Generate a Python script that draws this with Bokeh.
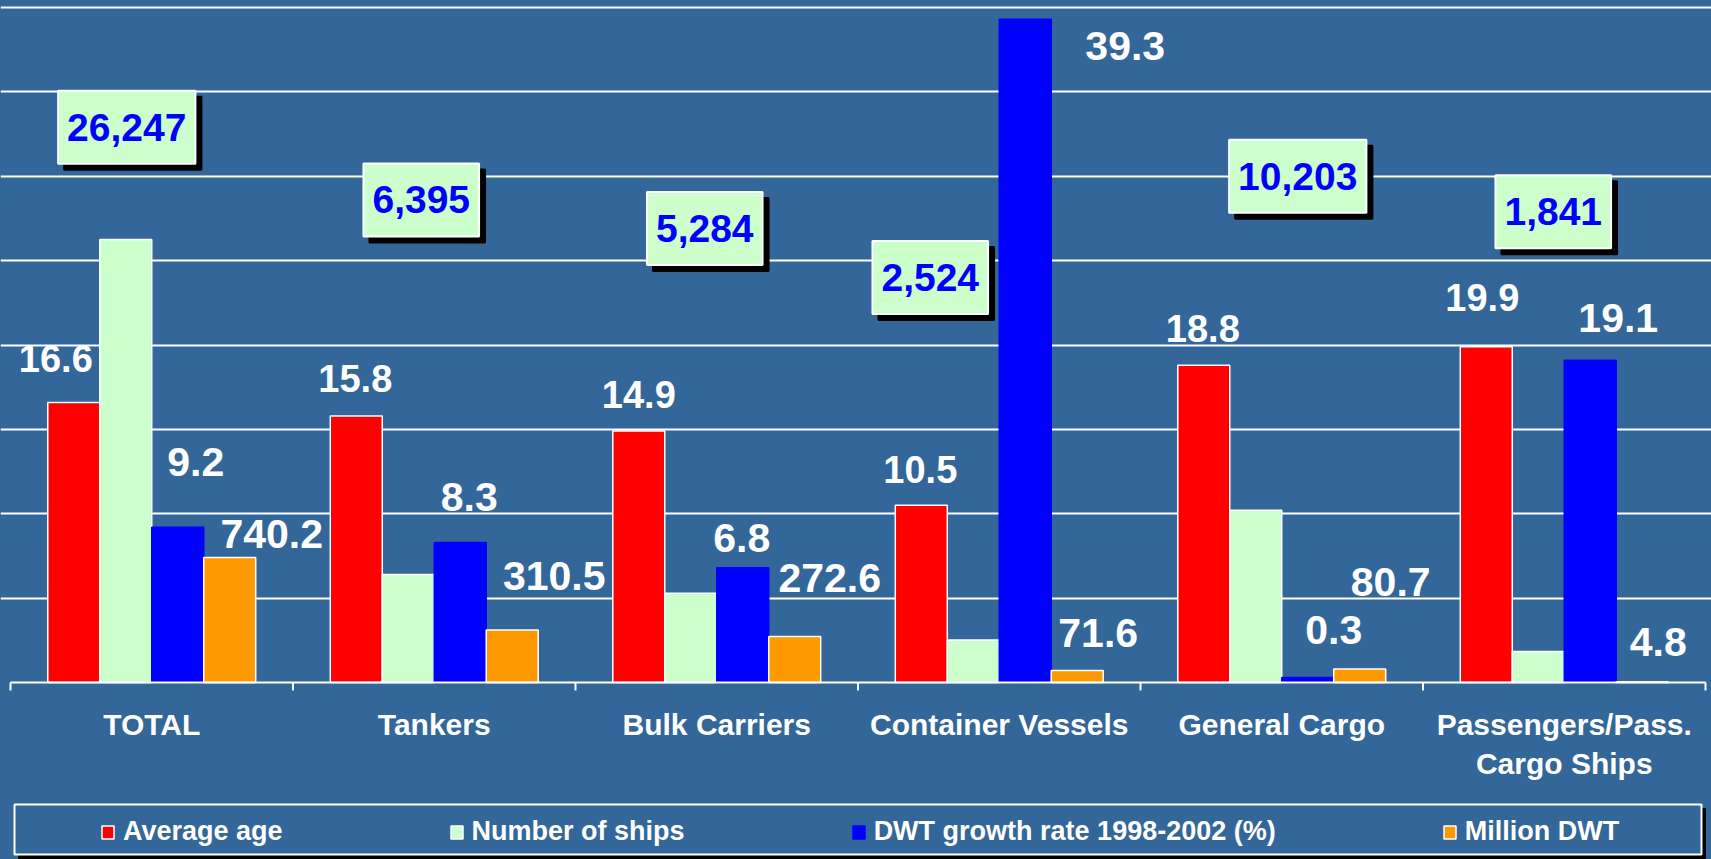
from bokeh.plotting import figure
from bokeh.models import (Range1d, FixedTicker, ColumnDataSource, Legend, LegendItem,
                          GlobalInlineStyleSheet)
from bokeh.core.properties import value
from bokeh.embed import file_html
from bokeh.resources import INLINE

# ---------------- data ----------------
categories = ["TOTAL", "Tankers", "Bulk Carriers", "Container Vessels", "General Cargo",
              "Passengers/Pass.\nCargo Ships"]
average_age = [16.6, 15.8, 14.9, 10.5, 18.8, 19.9]
number_of_ships = [26247, 6395, 5284, 2524, 10203, 1841]
dwt_growth = [9.2, 8.3, 6.8, 39.3, 0.3, 19.1]
million_dwt = [740.2, 310.5, 272.6, 71.6, 80.7, 4.8]
series_names = ["Average age", "Number of ships", "DWT growth rate 1998-2002 (%)", "Million DWT"]
y_ticks = [5, 10, 15, 20, 25, 30, 35, 40]

# one shared axis: ships plotted in thousands, DWT in hundreds of millions
SHIPS_UNIT = 1000
DWT_UNIT = 100

# ---------------- styling / layout ----------------
BG = "#336699"
RED, GREEN, BLUE, ORANGE = "#FF0000", "#CCFFCC", "#0000FF", "#FF9900"
FONT = "Liberation Sans"

W, H = 1711, 859
X0_PX = 10.0         # left category boundary (px from figure left)
CAT_PX = 282.5       # category width in px
BASE_PX = 682.0      # baseline (px from figure top)
K = 16.875           # px per axis unit

def px_x(fx):
    return (fx - X0_PX) / CAT_PX

def px_y(fy):
    return (BASE_PX - fy) / K

BAR_W = 0.184
OFFS = [-0.276, -0.092, 0.092, 0.276]

# label nudges (px): horizontal shift and height above bar top
red_dx = [-18, -1, 0, -1, -1, -4]
red_up = [44, 37, 37, 36, 37, 49]
blue_dx = [18, 9, -1, 100, 26, 28]
blue_up = [65, 45, 30, -27, 47, 42]
orange_dx = [42, 42, 35, 21, 31, 16]
orange_up = [24, 54, 58, 37, 87, 40]
ship_box_dx = [1, 13, 14, -43, 42, 15]
ship_box_y = [32.9, 28.6, 26.9, 24.0, 30.0, 27.9]   # box centre height in axis units

p = figure(width=W, height=H, output_backend="svg", toolbar_location=None,
           x_range=Range1d(px_x(0), px_x(W)), y_range=Range1d(px_y(H), px_y(0)),
           x_axis_location=None, y_axis_location=None, min_border=0,
           background_fill_color=BG, border_fill_color=BG, outline_line_color=None)
p.stylesheets = [GlobalInlineStyleSheet(css="body { background-color: #336699; }")]

p.xgrid.visible = False
p.ygrid.ticker = FixedTicker(ticks=y_ticks)
p.ygrid.grid_line_color = "white"
p.ygrid.grid_line_width = 2

n = len(categories)
centers = [i + 0.5 for i in range(n)]

series = [
    (average_age, 1, RED, "white"),
    (number_of_ships, SHIPS_UNIT, GREEN, "white"),
    (dwt_growth, 1, BLUE, BLUE),
    (million_dwt, DWT_UNIT, ORANGE, "white"),
]
renderers = []
tops_all = []
for k, (vals, unit, col, lc) in enumerate(series):
    tops = [v / unit for v in vals]
    tops_all.append(tops)
    src = ColumnDataSource(dict(x=[c + OFFS[k] for c in centers], top=tops))
    r = p.vbar(x="x", top="top", width=BAR_W, source=src, fill_color=col,
               line_color=lc, line_width=1.5)
    renderers.append(r)

# baseline and category boundary ticks
p.segment(x0=[0], y0=[0], x1=[n], y1=[0], line_color="white", line_width=2)
p.segment(x0=list(range(n + 1)), y0=[0] * (n + 1), x1=list(range(n + 1)),
          y1=[-8 / K] * (n + 1), line_color="white", line_width=2)

# category labels
p.text(x=centers, y=[0] * n, text=categories, y_offset=25,
       text_align="center", text_baseline="top", text_color="white",
       text_font=value(FONT), text_font_style="bold", text_font_size="30px",
       text_line_height=1.2)

# value labels (white)
def value_labels(k, vals, dx, up, size):
    src = ColumnDataSource(dict(
        x=[c + OFFS[k] for c in centers], y=tops_all[k],
        t=[f"{v:.1f}" for v in vals], dx=dx, dy=[-u for u in up]))
    p.text(x="x", y="y", text="t", x_offset="dx", y_offset="dy", source=src,
           text_align="center", text_baseline="middle", text_color="white",
           text_font=value(FONT), text_font_style="bold", text_font_size=size)

value_labels(0, average_age, red_dx, red_up, "38px")
value_labels(2, dwt_growth, blue_dx, blue_up, "41px")
value_labels(3, million_dwt, orange_dx, orange_up, "41px")

# number-of-ships boxed labels with drop shadow
ship_src = ColumnDataSource(dict(
    x=[c + OFFS[1] for c in centers], y=ship_box_y,
    t=[f"{v:,}" for v in number_of_ships], dx=ship_box_dx,
    sdx=[d + 6 for d in ship_box_dx]))
pad = dict(left=9, right=9, top=23, bottom=23)
p.text(x="x", y="y", text="t", x_offset="sdx", y_offset=6, source=ship_src,
       text_align="center", text_baseline="middle", text_color="black",
       text_font=value(FONT), text_font_style="bold", text_font_size="39px",
       background_fill_color="black", border_line_color="black", border_line_width=2,
       padding=pad)
p.text(x="x", y="y", text="t", x_offset="dx", source=ship_src,
       text_align="center", text_baseline="middle", text_color=BLUE,
       text_font=value(FONT), text_font_style="bold", text_font_size="39px",
       background_fill_color=GREEN, border_line_color="white", border_line_width=2,
       padding=pad)

# legend frame with shadow
p.quad(left=[px_x(18)], right=[px_x(1705)], top=[px_y(808)], bottom=[px_y(858)],
       fill_color="black", line_color="black")
p.quad(left=[px_x(14)], right=[px_x(1701)], top=[px_y(804)], bottom=[px_y(854)],
       fill_color=BG, line_color="white", line_width=2)

legend = Legend(items=[LegendItem(label=nm, renderers=[r]) for nm, r in zip(series_names, renderers)],
                orientation="horizontal", location=(100, 12), spacing=166, padding=0,
                margin=0, background_fill_alpha=0, border_line_color=None,
                label_text_color="white", label_text_font=FONT, label_text_font_style="bold",
                label_text_font_size="27px", glyph_width=15, glyph_height=16,
                label_standoff=8)
p.add_layout(legend)

open("out.html", "w").write(file_html(p, INLINE))
